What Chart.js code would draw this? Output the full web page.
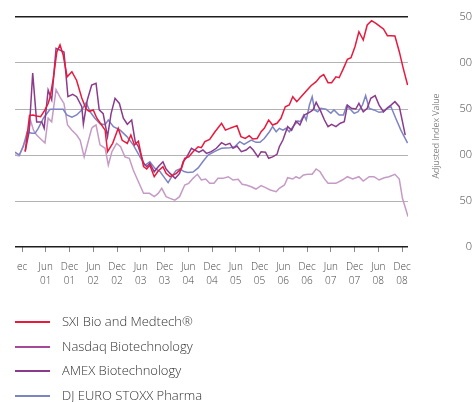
<!DOCTYPE html>
<html>
<head>
<meta charset="utf-8">
<script src="https://cdn.jsdelivr.net/npm/chart.js@4"></script>
<style>
  html, body { margin: 0; padding: 0; background: #fff; }
  #wrap { position: relative; width: 473px; height: 402px; overflow: hidden; }
  #c { position: absolute; left: 0; top: 0; }
  #legend { position: absolute; left: 0; top: 0; width: 473px; height: 402px; pointer-events: none;
            font-family: 'Open Sans', 'DejaVu Sans', sans-serif; font-weight: 300; font-size: 13px; color: #333; }
  .row { position: absolute; left: 15px; height: 24px; line-height: 24px; white-space: nowrap; }
  .sw { position: absolute; left: 0; top: 12px; width: 35px; height: 1.5px; }
  .lab { position: absolute; left: 47px; top: 0; }
</style>
</head>
<body>
<div id="wrap">
  <canvas id="c" width="473" height="402"></canvas>
  <div id="legend"></div>
</div>
<script>
// Months counted from Dec 2000 (0 = Dec 00, 96 = Dec 08)
const seriesNames = ['SXI Bio and Medtech\u00AE', 'Nasdaq Biotechnology', 'AMEX Biotechnology', 'DJ EURO STOXX Pharma'];
const yTitle = 'Adjusted Index Value';
const xTickMonths = [0, 6, 12, 18, 24, 30, 36, 42, 48, 54, 60, 66, 72, 78, 84, 90, 96];
const xTickLabels = [['ec', ''], ['Jun', '01'], ['Dec', '01'], ['Jun', '02'], ['Dec', '02'], ['Jun', '03'], ['Dec', '03'],
  ['Jun', '04'], ['Dec', '04'], ['Jun', '05'], ['Dec', '05'], ['Jun', '06'], ['Dec', '06'], ['Jun', '07'], ['Dec', '07'],
  ['Jun', '08'], ['Dec', '08']];
const yTickLabels = ['0', '50', '00', '50', '00', '50'];

const sxiMonths = [0.8,1.9,2.8,3.7,4.7,5.8,6.6,7.1,7.9,8.3,8.8,9.6,10.4,11.4,12.6,13.8,15.1,16.2,17.0,18.0,18.9,20.1,21.0,21.6,22.9,24.3,25.3,26.6,27.5,28.4,29.4,30.7,31.5,32.3,33.4,34.4,35.6,36.4,37.4,39.0,40.3,41.1,42.1,43.2,44.5,45.3,46.2,47.4,48.7,50.4,51.4,52.9,54.3,55.3,56.4,57.4,58.3,59.4,60.4,61.2,62.3,63.3,64.4,65.4,66.5,67.5,68.4,69.4,70.5,71.8,73.0,74.3,75.3,76.2,77.3,78.2,79.3,80.1,81.2,82.2,83.1,84.1,85.1,86.2,87.2,88.3,89.4,90.5,91.3,92.3,93.2,94.2,95.3,96.3,97.4];
const sxiValues = [103.6,143,143.5,142.5,141.6,149,156,163,183,196,212,219.6,208.7,185,190.5,181,162,150,147.5,149,140,132.6,127,103.6,112.7,129,116,112.7,121.7,110.9,115,87.3,84.8,89,76.4,82.6,87.3,80,76.4,80,85.5,96.4,98,103.6,109,108,114.5,117,125,134.5,127,129.7,131.9,120,118,121,117.4,118,125.3,129,138,132.6,134.5,139.9,152.5,154.3,163.4,158,163.4,169.6,175.3,179.7,185,187.5,178.6,178.6,185,184,194.2,204,205.8,217.7,234,225,241.3,246,243,239.5,237,229.7,229.5,229.3,212.3,194.2,176];

const nasdaqMonths = [-1.8,-0.7,0.3,1.3,2.2,2.9,3.7,4.6,5.8,6.6,7.5,8.6,9.6,10.6,11.5,12.6,13.8,14.7,15.7,16.8,17.6,18.0,18.7,19.7,21.0,21.8,22.7,23.9,24.9,26.0,27.1,28.1,29.4,30.7,32.2,33.4,34.4,35.3,36.4,37.4,38.6,39.8,41.1,42.1,43.2,44.3,45.3,46.4,47.4,48.5,49.5,50.8,52.1,53.3,54.6,55.6,56.6,57.9,59.1,60.4,61.5,62.7,64.2,65.0,66.3,67.1,68.4,69.2,70.1,71.1,72.2,73.3,74.3,75.3,76.4,77.3,79.3,80.9,82.2,83.5,85.1,86.2,87.7,88.9,90.2,91.5,92.7,94.2,95.3,96.1,97.5];
const nasdaqValues = [100,99,110,120,137,127,121.7,118,113,140,136,171,163,156,132.6,127,121.7,116,98,116,129,130.8,132.6,111,107.3,89,103.6,112.7,109,98,96.4,83.7,71,58.3,58.3,54.7,58.3,63.8,54.7,52.9,51,54.7,67.4,69.2,74.6,79,72.8,73.9,69.2,69.2,74.6,74.6,76.4,72.8,73.6,68.2,67.4,65.5,63,66.7,64.5,62,60.1,63.8,67.4,75.3,73.9,76.4,74.6,78.3,79,79,84.8,81.8,74,69.2,69.2,72.8,76.4,73.9,76.4,71.7,76.4,76.4,72.8,75.3,76.4,79,73.9,52.9,33];

const amexMonths = [0.8,1.8,2.7,3.7,5.0,5.6,6.6,7.5,8.6,9.6,10.6,11.6,12.8,13.8,15.1,15.5,16.5,17.6,18.7,19.5,20.5,21.6,22.5,23.5,24.6,25.6,26.6,27.7,28.6,29.4,30.7,31.5,32.3,33.4,34.4,35.6,36.4,37.4,38.7,39.8,40.7,41.5,42.8,43.6,44.7,45.7,46.6,47.8,49.1,50.4,51.4,52.5,53.3,54.3,55.4,56.6,57.6,58.4,59.6,60.4,61.5,62.3,63.3,64.4,65.0,65.9,67.1,68.1,69.2,70.2,71.3,72.6,73.5,74.3,75.3,76.4,77.3,78.2,79.3,80.4,81.4,82.2,83.2,84.3,85.1,86.2,87.2,88.1,89.2,90.2,91.3,92.3,93.2,94.2,95.3,96.1,96.8];
const amexValues = [104,125,189,136,136,129,170.6,160,216,214,212,163.4,166,163.4,152.5,133.7,159.8,176,178,149,145,120,145,161.6,156,140,133.4,138,114.5,109,91,87.3,91,81.8,87.3,92.7,84.8,80,74.6,80,92.7,97,107.3,105.4,103,105.4,101.8,103.6,107.3,113.4,110.9,112.7,107.3,109.8,103.6,105.4,109,105.4,98,103.6,103,96.4,98,100.7,109,116.3,130.8,127,137,132.6,143.5,146.4,149,157.3,149,138,130.8,133.4,130.8,134.5,136.2,154.3,150.7,150,156.2,147,150.7,161.6,164.5,154.3,147,151.4,154.3,158,152.5,136.2,121.5];

const stoxxMonths = [-1.8,-0.7,0.3,1.3,2.5,3.3,4.1,5.4,7.1,8.8,10.4,11.3,12.6,13.8,15.1,16.2,17.2,18.4,19.7,21.0,21.8,23.1,24.8,26.5,28.1,29.8,31.1,32.3,33.6,34.9,36.1,36.9,37.9,38.9,39.9,40.9,41.9,43.2,44.5,45.7,47.0,48.7,50.4,52.5,53.7,55.0,56.1,57.9,59.1,60.1,61.2,62.5,63.3,64.2,65.0,65.9,66.7,67.5,68.8,69.7,70.3,71.2,71.8,72.6,73.3,73.9,74.7,75.5,76.8,78.0,78.8,80.1,81.2,82.0,83.1,83.9,84.9,86.0,86.8,87.7,88.9,90.2,91.3,92.3,93.2,94.4,95.7,97.4];
const stoxxValues = [103,100,109,125,123.6,123.6,129,140,149.7,149.7,149.7,143.5,141,143.5,149,157,147,140,134,133,138,130.8,127,120,111,98,89,92.7,85.5,81.8,74.6,70,77,83,85,82,81,81.5,86,93,100,104,107.3,108,109,114.5,111.6,116.3,113.8,113.8,118,125.3,130.8,125.3,129,127,129,125.3,132.6,137,136.2,143.5,138,154.3,163.4,149,147,150.7,149.7,145.3,149,143.5,143.5,153.6,149,145.3,147,154.3,164.5,150.7,149,146.4,147,150.7,152.5,139.9,127,113];

const lineColors = ['#e8193c', '#c59bc6', '#8b3b8b', '#7d84c3'];
const legendColors = ['#e8193c', '#a8489a', '#8b3b8b', '#7d84c3'];

function pts(ms, vs) { return ms.map((m, i) => ({ x: m, y: vs[i] })); }

const FONT = "'Open Sans', 'DejaVu Sans', sans-serif";

const yTitlePlugin = {
  id: 'yTitle',
  afterDraw(chart) {
    const ctx = chart.ctx;
    ctx.save();
    ctx.translate(436, 136);
    ctx.rotate(-Math.PI / 2);
    ctx.font = '300 9px ' + FONT;
    ctx.fillStyle = '#555';
    ctx.textAlign = 'center';
    ctx.textBaseline = 'middle';
    ctx.fillText(yTitle, 0, 0);
    ctx.restore();
  }
};

const datasets = [
  { label: seriesNames[0], data: pts(sxiMonths, sxiValues), borderColor: lineColors[0], order: 0 },
  { label: seriesNames[1], data: pts(nasdaqMonths, nasdaqValues), borderColor: lineColors[1], order: 3 },
  { label: seriesNames[2], data: pts(amexMonths, amexValues), borderColor: lineColors[2], order: 1 },
  { label: seriesNames[3], data: pts(stoxxMonths, stoxxValues), borderColor: lineColors[3], order: 2 }
];

const chart = new Chart(document.getElementById('c'), {
  type: 'line',
  data: { datasets },
  plugins: [yTitlePlugin],
  options: {
    responsive: false,
    animation: false,
    devicePixelRatio: 1,
    layout: { padding: { left: 15, right: 1, top: 17, bottom: 0 } },
    plugins: { legend: { display: false }, tooltip: { enabled: false } },
    elements: { point: { radius: 0 }, line: { borderWidth: 1.5, tension: 0, fill: false } },
    scales: {
      x: {
        type: 'linear',
        min: -1.77,
        max: 97.5,
        afterBuildTicks: s => { s.ticks = xTickMonths.map(v => ({ value: v })); },
        afterFit: s => { s.height = 155; s.paddingLeft = 0; s.paddingRight = 0; },
        border: { display: false },
        grid: { drawOnChartArea: false, drawTicks: true, tickLength: 5, color: '#8a8a8a', lineWidth: 1 },
        ticks: {
          autoSkip: false, maxRotation: 0, minRotation: 0, padding: 8,
          color: '#444',
          font: { family: FONT, size: 10, weight: '300', lineHeight: 1.4 },
          callback: (v, i) => xTickLabels[i]
        }
      },
      y: {
        position: 'right',
        min: 0, max: 250,
        ticks: {
          stepSize: 50, padding: 51, crossAlign: 'far',
          color: '#444',
          font: { family: FONT, size: 11, weight: '300' },
          callback: (v, i) => yTickLabels[i]
        },
        afterFit: s => { s.width = 64; s.paddingTop = 0; s.paddingBottom = 0; },
        border: { display: false },
        grid: {
          drawTicks: false,
          color: c => (c.tick && (c.tick.value === 0 || c.tick.value === 250)) ? '#1e1e1e' : '#b3b3b3',
          lineWidth: c => (c.tick && (c.tick.value === 0 || c.tick.value === 250)) ? 1.5 : 1
        }
      }
    }
  }
});

// HTML legend built from the chart's datasets
const legendEl = document.getElementById('legend');
chart.data.datasets.forEach((ds, i) => {
  const row = document.createElement('div');
  row.className = 'row';
  row.style.top = Math.round(309 + i * 24.5) + 'px';
  const sw = document.createElement('div');
  sw.className = 'sw';
  sw.style.background = legendColors[i];
  const lab = document.createElement('span');
  lab.className = 'lab';
  lab.textContent = ds.label;
  row.appendChild(sw);
  row.appendChild(lab);
  legendEl.appendChild(row);
});
</script>
</body>
</html>
